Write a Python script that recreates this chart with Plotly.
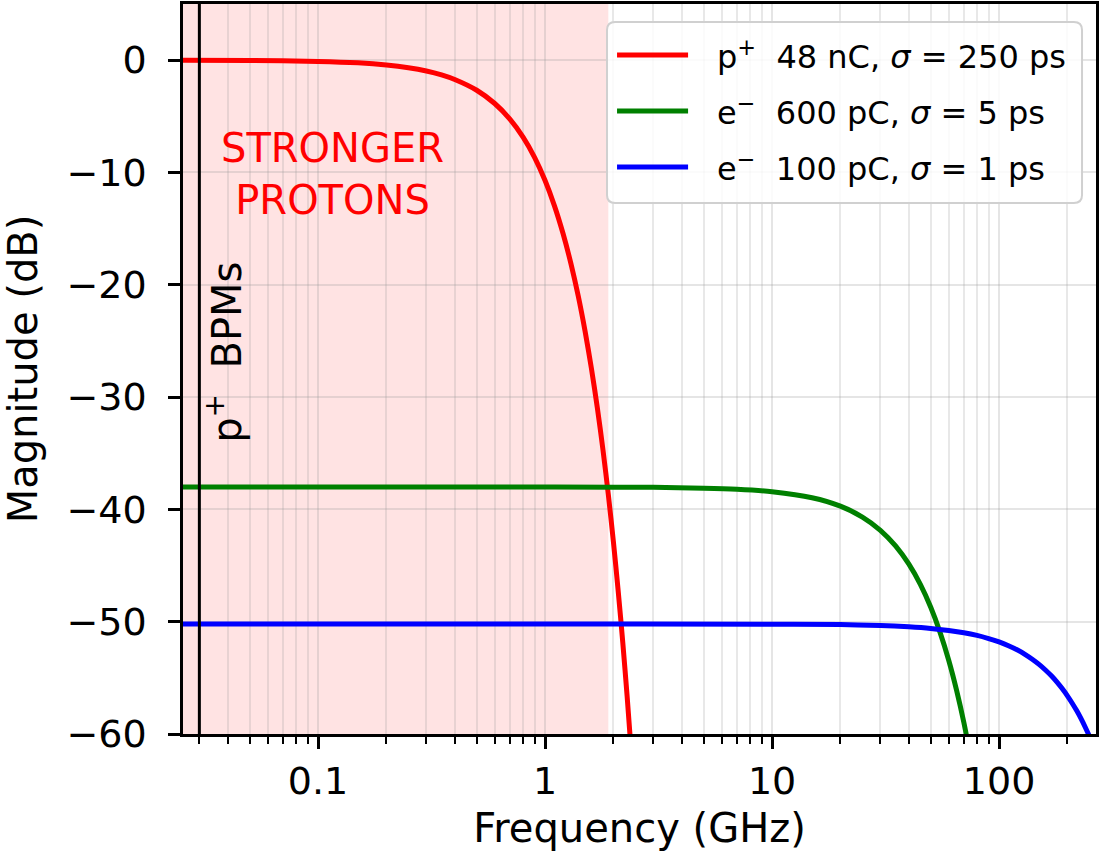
import plotly.graph_objects as go

# valores (frequência em GHz, magnitude em dB)
freq_proton = [0.025, 0.05, 0.1, 0.15, 0.2, 0.25, 0.3, 0.35, 0.4, 0.5, 0.6, 0.7, 0.8, 0.9,
               1.0, 1.1, 1.2, 1.3, 1.4, 1.5, 1.6, 1.7, 1.8, 1.9, 2.0, 2.1, 2.2, 2.3, 2.4]
mag_proton = [0.0, -0.03, -0.11, -0.24, -0.43, -0.67, -0.96, -1.31, -1.72, -2.68, -3.86,
              -5.25, -6.86, -8.68, -10.72, -12.97, -15.44, -18.12, -21.01, -24.12,
              -27.44, -30.98, -34.73, -38.70, -42.88, -47.28, -51.88, -56.71, -61.75]

freq_e600 = [0.025, 1, 2, 3, 5, 7, 10, 15, 20, 25, 30, 35, 40, 45, 50, 55, 60, 65, 70, 75]
mag_e600 = [-38.0, -38.0, -38.02, -38.04, -38.11, -38.21, -38.43, -38.96, -39.71, -40.68,
            -41.86, -43.25, -44.86, -46.68, -48.72, -50.97, -53.43, -56.11, -59.0, -62.11]

freq_e100 = [0.025, 1, 10, 20, 30, 40, 50, 60, 70, 80, 90, 100, 110, 120, 130, 140, 150,
             160, 170, 180, 190, 200, 210, 220, 230, 240, 250, 260]
mag_e100 = [-50.2, -50.2, -50.22, -50.26, -50.34, -50.46, -50.60, -50.78, -50.98, -51.22,
            -51.50, -51.80, -52.14, -52.50, -52.90, -53.34, -53.80, -54.30, -54.82,
            -55.38, -55.98, -56.60, -57.26, -57.94, -58.66, -59.42, -60.20, -61.02]

nomes = ["p<sup>+</sup>  48 nC, <i>σ</i> = 250 ps",
         "e<sup>−</sup>  600 pC, <i>σ</i> = 5 ps",
         "e<sup>−</sup>  100 pC, <i>σ</i> = 1 ps"]
cores = ["#ff0000", "#008000", "#0000ff"]

bpm_freq = 0.03        # linha dos BPMs de prótons
regiao_protons = 1.9   # limite da região sombreada

x_ticks = [0.1, 1, 10, 100]
x_ticktext = ["0.1", "1", "10", "100"]
x_minor = [0.03, 0.04, 0.05, 0.06, 0.07, 0.08, 0.09,
           0.2, 0.3, 0.4, 0.5, 0.6, 0.7, 0.8, 0.9,
           2, 3, 4, 5, 6, 7, 8, 9,
           20, 30, 40, 50, 60, 70, 80, 90, 200]
y_ticks = [0, -10, -20, -30, -40, -50, -60]
y_ticktext = ["0", "−10", "−20", "−30", "−40", "−50", "−60"]

FONTE = "DejaVu Sans"

fig = go.Figure()

series = [(freq_proton, mag_proton), (freq_e600, mag_e600), (freq_e100, mag_e100)]
for i, (f, m) in enumerate(series):
    fig.add_trace(
        go.Scatter(
            x=f, y=m, mode="lines", name=nomes[i],
            line=dict(color=cores[i], width=5, shape="spline", smoothing=0.8),
            showlegend=False,
        )
    )

# região sombreada e linha vertical
fig.add_shape(type="rect", xref="x", yref="paper", x0=0.01, x1=regiao_protons,
              y0=0, y1=1, fillcolor="rgba(255,0,0,0.11)", line_width=0, layer="below")
fig.add_shape(type="line", xref="x", yref="paper", x0=bpm_freq, x1=bpm_freq,
              y0=0, y1=1, line=dict(color="black", width=3))

fig.add_annotation(x=-0.938, y=-10.1, xref="x", yref="y", text="STRONGER<br>PROTONS",
                   showarrow=False, font=dict(color="#ff0000", size=40, family=FONTE))
fig.add_annotation(x=-1.414, y=-26.05, xref="x", yref="y", text="p<sup>+</sup>  BPMs",
                   textangle=-90, showarrow=False,
                   font=dict(color="black", size=40, family=FONTE))

# legenda desenhada à mão (caixa arredondada, amostras de linha longas)
lx0, lx1, ly0, ly1 = 0.4644, 0.9847, 0.7274, 0.9753
rx, ry = 0.009, 0.011
caixa = (f"M{lx0 + rx},{ly0} L{lx1 - rx},{ly0} Q{lx1},{ly0} {lx1},{ly0 + ry} "
         f"L{lx1},{ly1 - ry} Q{lx1},{ly1} {lx1 - rx},{ly1} L{lx0 + rx},{ly1} "
         f"Q{lx0},{ly1} {lx0},{ly1 - ry} L{lx0},{ly0 + ry} Q{lx0},{ly0} {lx0 + rx},{ly0} Z")
fig.add_shape(type="path", path=caixa, xref="paper", yref="paper",
              fillcolor="rgba(255,255,255,0.82)", line=dict(color="#d0d0d0", width=2),
              layer="above")
leg_y = [0.9301, 0.8534, 0.7767]
for i in range(3):
    fig.add_shape(type="line", xref="paper", yref="paper", x0=0.4754, x1=0.5532,
                  y0=leg_y[i], y1=leg_y[i], line=dict(color=cores[i], width=5),
                  layer="above")
    fig.add_annotation(x=0.5827, y=leg_y[i], xref="paper", yref="paper", text=nomes[i],
                       xanchor="left", yanchor="middle", showarrow=False,
                       font=dict(size=32, family=FONTE, color="black"))

eixo = dict(showline=True, linecolor="black", linewidth=2.5, mirror=True,
            ticks="outside", ticklen=12, tickwidth=2.5, tickcolor="black",
            showgrid=True, gridcolor="rgba(150,150,150,0.25)", gridwidth=1.5,
            zeroline=False, automargin=False,
            tickfont=dict(size=38, family=FONTE, color="black"))

fig.update_xaxes(
    type="log", range=[-1.595, 2.427],
    tickmode="array", tickvals=x_ticks, ticktext=x_ticktext,
    minor=dict(tickmode="array", tickvals=x_minor, ticks="outside", ticklen=7,
               tickwidth=2, tickcolor="black", showgrid=True,
               gridcolor="rgba(150,150,150,0.22)", gridwidth=1.5),
    title=dict(text="Frequency (GHz)", font=dict(size=40, family=FONTE, color="black"),
               standoff=12),
    **eixo,
)
fig.update_yaxes(
    range=[-60, 5], tickmode="array", tickvals=y_ticks, ticktext=y_ticktext,
    ticklabelstandoff=14,
    title=dict(text="Magnitude (dB)", font=dict(size=40, family=FONTE, color="black"),
               standoff=21),
    **eixo,
)

fig.update_layout(
    width=1099, height=865,
    margin=dict(l=183, r=3, t=4, b=131),
    plot_bgcolor="white", paper_bgcolor="white",
    font=dict(family=FONTE, color="black"),
    showlegend=False,
)

# tira a margem padrão do <body> para a figura começar no canto da janela
fig.write_html("out.html", config={"displayModeBar": False},
               post_script="document.body.style.margin='0';document.body.style.overflow='hidden';")
